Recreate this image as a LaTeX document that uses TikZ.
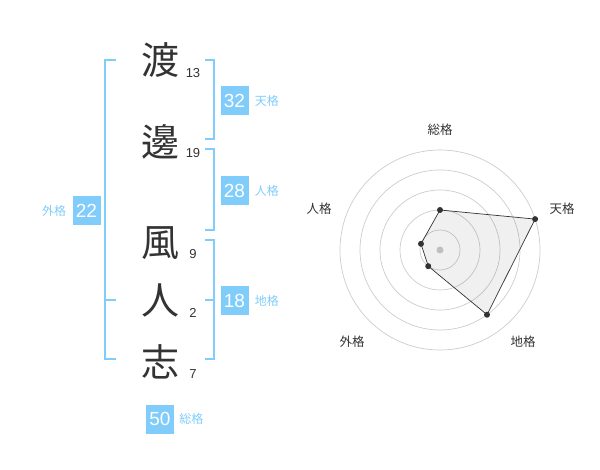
\documentclass[tikz,border=0pt]{standalone}
\usepackage{fontspec}
\usetikzlibrary{positioning}
\setmainfont{Liberation Sans}
\newfontfamily\jp{Noto Sans CJK JP}
\definecolor{kakublue}{HTML}{80CCFA}
\definecolor{ink}{HTML}{333333}
\begin{document}
\begin{tikzpicture}[x=1pt,y=1pt,
    kanji/.style={text=ink,inner sep=0pt,font=\jp\fontsize{38}{38}\selectfont},
    kakusu/.style={text=ink,inner sep=0pt,font=\fontsize{13}{13}\selectfont},
    kaku/.style={fill=kakublue,text=white,inner sep=0pt,minimum width=28pt,minimum height=29pt,font=\fontsize{19}{19}\selectfont},
    kakuname/.style={text=kakublue,inner sep=0pt,font=\jp\fontsize{12}{12}\selectfont},
    bracket/.style={kakublue,line width=1.6pt},
    axisname/.style={text=ink,inner sep=0pt,font=\jp\fontsize{12.5}{12.5}\selectfont}]
    \useasboundingbox (0,0) rectangle (600,-470);
    % name
    \node[kanji] (wa) at (160,-60) {渡};
    \node[kanji] (nabe) at (160,-142) {邊};
    \node[kanji] (kaze) at (160,-243) {風};
    \node[kanji] (hito) at (160,-300) {人};
    \node[kanji] (kokoro) at (160,-362) {志};
    \node[kakusu] at (193,-73) {13};
    \node[kakusu] at (193,-153) {19};
    \node[kakusu] at (193,-254) {9};
    \node[kakusu] at (193,-313) {2};
    \node[kakusu] at (193,-374) {7};
    % brackets
    \draw[bracket] (205,-60) -- (214,-60) -- (214,-139) -- (205,-139);
    \draw[bracket] (205,-149) -- (214,-149) -- (214,-230) -- (205,-230);
    \draw[bracket] (205,-240) -- (214,-240) -- (214,-359) -- (205,-359);
    \draw[bracket] (205,-300) -- (214,-300);
    \draw[bracket] (116,-60) -- (105,-60) -- (105,-359) -- (116,-359);
    \draw[bracket] (105,-300) -- (116,-300);
    % kaku
    \node[kaku] (tenkaku) at (234.5,-100.5) {32};
    \node[kakuname,right=6pt of tenkaku] {天格};
    \node[kaku] (jinkaku) at (234.5,-190.5) {28};
    \node[kakuname,right=6pt of jinkaku] {人格};
    \node[kaku] (chikaku) at (234.5,-300.5) {18};
    \node[kakuname,right=6pt of chikaku] {地格};
    \node[kaku] (gaikaku) at (86.5,-210.5) {22};
    \node[kakuname,left=6pt of gaikaku] {外格};
    \node[kaku] (soukaku) at (160,-419) {50};
    \node[kakuname,right=5pt of soukaku] {総格};
    % radar
    \begin{scope}[shift={(440,-250)}]
      \foreach \r in {20,40,...,100}
        \draw[black!20,line width=.7pt] (0,0) circle (\r);
      \coordinate (psou) at (90:40);
      \coordinate (pten) at (18:100);
      \coordinate (pchi) at (-54:80);
      \coordinate (pgai) at (-126:20);
      \coordinate (pjin) at (162:20);
      \draw[ink,line width=.7pt,fill=black,fill opacity=.06] (psou) -- (pten) -- (pchi) -- (pgai) -- (pjin) -- cycle;
      \foreach \p in {psou,pten,pchi,pgai,pjin}
        \fill[ink] (\p) circle (3);
      \fill[black!25] (0,0) circle (3.5);
      \node[axisname] at (0,120) {総格};
      \node[axisname] at (122,41) {天格};
      \node[axisname] at (83,-92) {地格};
      \node[axisname] at (-88,-92) {外格};
      \node[axisname] at (-121,41) {人格};
    \end{scope}
\end{tikzpicture}
\end{document}
